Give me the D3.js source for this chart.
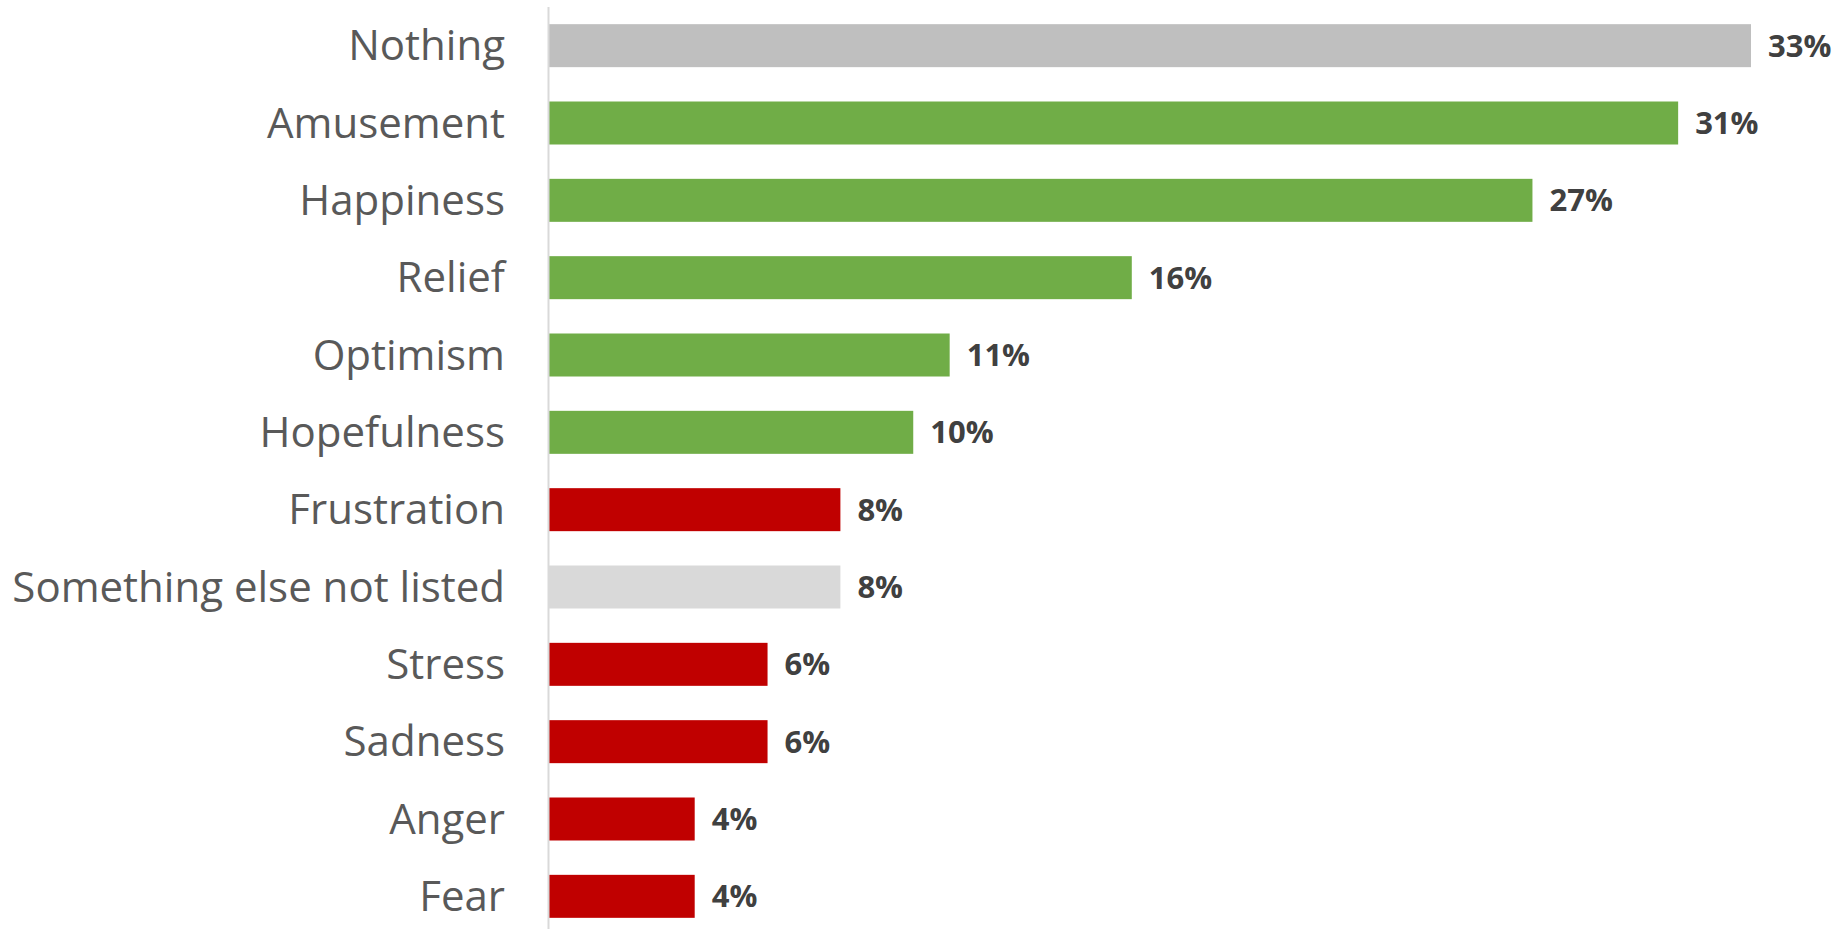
<!DOCTYPE html>
<html>
<head>
<meta charset="utf-8">
<script src="https://cdn.jsdelivr.net/npm/d3@7"></script>
<style>
  body { margin: 0; background: white; overflow: hidden; }
</style>
</head>
<body>
<div class="wrapper"></div>
<script>
const emotions = [
  "Nothing", "Amusement", "Happiness", "Relief", "Optimism", "Hopefulness",
  "Frustration", "Something else not listed", "Stress", "Sadness", "Anger", "Fear"
];
const shares = [33, 31, 27, 16, 11, 10, 8, 8, 6, 6, 4, 4];
const tone = [
  "none", "positive", "positive", "positive", "positive", "positive",
  "negative", "other", "negative", "negative", "negative", "negative"
];

const colors = {
  none: "#bfbfbf",
  positive: "#70ad47",
  negative: "#c00000",
  other: "#d9d9d9"
};

const data = emotions.map((e, i) => ({ name: e, value: shares[i], tone: tone[i] }));

const width = 1836;
const height = 929;
const left = 549;

const svg = d3.select(".wrapper")
  .append("svg")
  .attr("width", width)
  .attr("height", height);

const x = d3.scaleLinear()
  .domain([0, 33])
  .range([left, 1751]);

const y = d3.scaleBand()
  .domain(emotions)
  .range([7, 935])
  .paddingInner(0.444)
  .paddingOuter(0.222);

svg.selectAll("rect.bar")
  .data(data)
  .enter()
  .append("rect")
  .attr("class", "bar")
  .attr("x", x(0))
  .attr("y", d => y(d.name))
  .attr("height", y.bandwidth())
  .attr("width", d => x(d.value) - x(0))
  .style("fill", d => colors[d.tone]);

// vertical axis line
svg.append("line")
  .attr("x1", x(0) - 0.5)
  .attr("x2", x(0) - 0.5)
  .attr("y1", 7)
  .attr("y2", height)
  .attr("stroke", "#d9d9d9")
  .attr("stroke-width", 2);

svg.selectAll("text.cat")
  .data(data)
  .enter()
  .append("text")
  .attr("class", "cat")
  .attr("x", x(0) - 44)
  .attr("y", d => y(d.name) + y.bandwidth() / 2)
  .attr("dy", "0.35em")
  .attr("text-anchor", "end")
  .text(d => d.name)
  .style("font-family", "'Open Sans', sans-serif")
  .style("font-size", "42px")
  .style("fill", "#595959");

svg.selectAll("text.val")
  .data(data)
  .enter()
  .append("text")
  .attr("class", "val")
  .attr("x", d => x(d.value) + 17)
  .attr("y", d => y(d.name) + y.bandwidth() / 2)
  .attr("dy", "0.36em")
  .text(d => d.value + "%")
  .style("font-family", "'Open Sans', sans-serif")
  .style("font-weight", 700)
  .style("font-size", "31px")
  .style("fill", "#404040");
</script>
</body>
</html>
